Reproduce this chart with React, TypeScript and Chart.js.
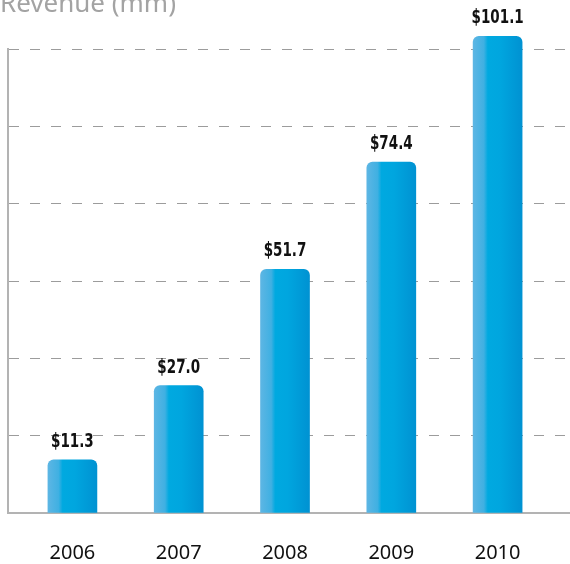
import React, { useEffect, useRef } from "react";
import { Chart, registerables } from "chart.js";

Chart.register(...registerables);

const years = [2006, 2007, 2008, 2009, 2010];
const revenue = [11.3, 27.0, 51.7, 74.4, 101.1];
const valueLabels = ["$11.3", "$27.0", "$51.7", "$74.4", "$101.1"];
const titleText = "Revenue (mm)";

const titlePlugin = {
  id: "cornerTitle",
  afterDraw(chart: any) {
    const ctx = chart.ctx;
    ctx.save();
    ctx.font = '26px "Noto Sans"';
    ctx.fillStyle = "#a3a3a3";
    ctx.textAlign = "left";
    ctx.textBaseline = "alphabetic";
    ctx.fillText(titleText, 0, 12);
    ctx.restore();
  },
};

const valueLabelPlugin = {
  id: "valueLabels",
  afterDatasetsDraw(chart: any) {
    const ctx = chart.ctx;
    const meta = chart.getDatasetMeta(0);
    const sx = 0.75;
    meta.data.forEach((el: any, i: number) => {
      ctx.save();
      ctx.font = 'bold 20px "DejaVu Sans Condensed", "DejaVu Sans", sans-serif';
      ctx.fillStyle = "#111111";
      ctx.textAlign = "center";
      ctx.textBaseline = "alphabetic";
      ctx.translate(el.x, el.y - 13);
      ctx.scale(sx, 1);
      ctx.fillText(valueLabels[i], 0, 0);
      ctx.restore();
    });
  },
};

export default function App() {
  const ref = useRef<HTMLCanvasElement | null>(null);

  useEffect(() => {
    if (!ref.current) return;
    const chart = new Chart(ref.current, {
      type: "bar",
      data: {
        datasets: [
          {
            data: years.map((y, i) => ({ x: y, y: revenue[i] })),
            barThickness: 49,
            borderRadius: 6,
            borderSkipped: "start",
            clip: false as any,
            backgroundColor: (context: any) => {
              const c = context.chart;
              const xs = c.scales && c.scales.x;
              if (!c.chartArea || !xs || context.dataIndex === undefined) return "#00a8e0";
              const cx = xs.getPixelForValue(years[context.dataIndex]);
              const g = c.ctx.createLinearGradient(cx - 24.5, 0, cx + 24.5, 0);
              g.addColorStop(0, "#5db6e4");
              g.addColorStop(0.22, "#3fb0e2");
              g.addColorStop(0.3, "#00a9e0");
              g.addColorStop(0.55, "#00a6df");
              g.addColorStop(1, "#0092d2");
              return g;
            },
          },
        ],
      },
      options: {
        animation: false,
        responsive: false,
        maintainAspectRatio: false,
        layout: { padding: { left: 8, right: 0, top: 49, bottom: 0 } },
        plugins: {
          legend: { display: false },
          tooltip: { enabled: false },
          title: { display: false },
        },
        scales: {
          x: {
            type: "linear",
            offset: false,
            min: 2005.394,
            max: 2010.681,
            grid: { display: false, drawTicks: false, offset: false },
            border: { display: true, color: "#b3b3b3", width: 2 },
            afterFit: (scale: any) => {
              scale.height = 51;
            },
            ticks: {
              stepSize: 1,
              includeBounds: false,
              padding: 28,
              minRotation: 0,
              maxRotation: 0,
              autoSkip: false,
              color: "#111111",
              font: { family: '"Noto Sans"', size: 20 },
              callback: (v: any) => String(v),
            },
          },
          y: {
            min: 0,
            max: 98.4,
            grid: {
              color: "#9c9c9c",
              lineWidth: 1,
              drawTicks: false,
            },
            border: { display: true, color: "#b3b3b3", width: 2, dash: [10, 11], dashOffset: 0 } as any,
            ticks: { display: false, count: 7 },
          },
        },
      },
      plugins: [titlePlugin, valueLabelPlugin],
    });
    return () => chart.destroy();
  }, []);

  return (
    <div style={{ position: "absolute", left: 0, top: 0, width: 570, height: 564 }}>
      <canvas ref={ref} width={570} height={564} style={{ display: "block" }} />
    </div>
  );
}
